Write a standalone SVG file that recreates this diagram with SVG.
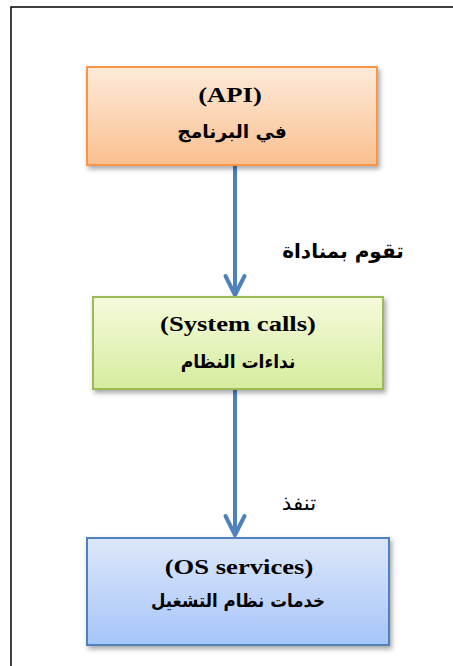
<svg xmlns="http://www.w3.org/2000/svg" width="453" height="666" viewBox="0 0 453 666">
<defs>
<linearGradient id="gO" x1="0" y1="0" x2="0" y2="1"><stop offset="0" stop-color="#FDEADA"/><stop offset="1" stop-color="#FAC08F"/></linearGradient>
<linearGradient id="gG" x1="0" y1="0" x2="0" y2="1"><stop offset="0" stop-color="#F5FADC"/><stop offset="1" stop-color="#D6EC9E"/></linearGradient>
<linearGradient id="gB" x1="0" y1="0" x2="0" y2="1"><stop offset="0" stop-color="#DDE7F9"/><stop offset="1" stop-color="#A6C5FA"/></linearGradient>
<filter id="sh" x="-10%" y="-10%" width="125%" height="130%"><feDropShadow dx="2" dy="3" stdDeviation="2.5" flood-color="#000" flood-opacity="0.35"/></filter>
</defs>
<style>
.box{stroke-width:2}
.en{font-family:"Liberation Serif","DejaVu Serif",serif;font-weight:bold;font-size:22px;text-anchor:middle;fill:#000}
.ar{font-family:"DejaVu Sans",sans-serif;font-weight:bold;font-size:18px;text-anchor:middle;fill:#000}
.conn{stroke:#4F81BD;stroke-width:4;fill:none}
.lbl{font-family:"DejaVu Sans",sans-serif;font-size:20px;fill:#000;text-anchor:middle}
</style>
<rect x="11" y="7" width="460" height="680" fill="#fff" stroke="#000" stroke-width="1.5"/>
<g id="connectors">
<line class="conn" x1="235" y1="166" x2="235" y2="295"/>
<polyline class="conn" points="225.5,276 235,295 244.5,276" stroke-linecap="round" stroke-linejoin="round"/>
<line class="conn" x1="235" y1="390" x2="235" y2="535"/>
<polyline class="conn" points="225.5,516 235,535 244.5,516" stroke-linecap="round" stroke-linejoin="round"/>
<text class="lbl" transform="translate(343,258)" font-weight="bold">تقوم بمناداة</text>
<text class="lbl" transform="translate(299,510) scale(1.07,1)" font-size="22">تنفذ</text>
</g>
<g id="api">
<rect class="box" x="87" y="67" width="290" height="98" fill="url(#gO)" stroke="#F79646" filter="url(#sh)"/>
<text class="en" transform="translate(230,102) scale(1.21,1)">(API)</text>
<text class="ar" transform="translate(232,138) scale(1.04,1)">في البرنامج</text>
</g>
<g id="syscalls">
<rect class="box" x="93" y="297" width="290" height="92" fill="url(#gG)" stroke="#9BBB59" filter="url(#sh)"/>
<text class="en" transform="translate(238,331) scale(1.21,1)">(System calls)</text>
<text class="ar" transform="translate(238,368) scale(0.95,1)">نداءات النظام</text>
</g>
<g id="os">
<rect class="box" x="87" y="538" width="302" height="107" fill="url(#gB)" stroke="#4F81BD" filter="url(#sh)"/>
<text class="en" transform="translate(239,574) scale(1.21,1)">(OS services)</text>
<text class="ar" transform="translate(238,607) scale(0.925,1)">خدمات نظام التشغيل</text>
</g>
</svg>
